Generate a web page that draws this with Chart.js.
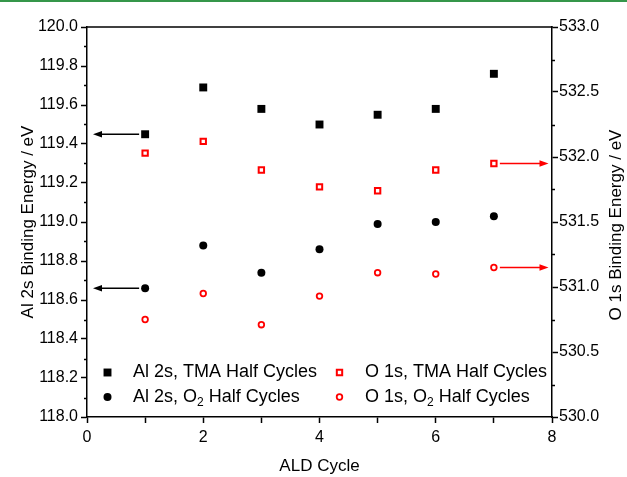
<!DOCTYPE html>
<html>
<head>
<meta charset="utf-8">
<script src="https://cdn.jsdelivr.net/npm/chart.js@4.4.1/dist/chart.umd.min.js"></script>
<style>
  html, body { margin: 0; padding: 0; background: #fff; }
  #wrap { position: relative; width: 627px; height: 477px; }
  #topbar { position: absolute; left: 0; top: 0; width: 627px; height: 2px; background: #35964a; }
</style>
</head>
<body>
<div id="wrap">
  <canvas id="xps-chart" width="627" height="477"></canvas>
  <div id="topbar"></div>
</div>
<script>
// ALD cycle number and binding energies (eV)
const cycles = [1, 2, 3, 4, 5, 6, 7];
const al2sTma = [119.45, 119.69, 119.58, 119.50, 119.55, 119.58, 119.76];
const al2sO2 = [118.66, 118.88, 118.74, 118.86, 118.99, 119.00, 119.03];
const o1sTma = [532.03, 532.12, 531.90, 531.77, 531.74, 531.90, 531.95];
const o1sO2 = [530.75, 530.95, 530.71, 530.93, 531.11, 531.10, 531.15];

const FONT = '"Liberation Sans", Arial, sans-serif';

function toPoints(values) {
  return cycles.map(function (c, i) { return { x: c, y: values[i] }; });
}

function line(ctx, x1, y1, x2, y2) {
  ctx.beginPath();
  ctx.moveTo(x1, y1);
  ctx.lineTo(x2, y2);
  ctx.stroke();
}

function arrow(ctx, x1, y, x2, color) {
  var dir = Math.sign(x2 - x1);
  ctx.strokeStyle = color;
  ctx.fillStyle = color;
  ctx.lineWidth = 1.5;
  line(ctx, x1, y, x2 - dir * 6, y);
  ctx.beginPath();
  ctx.moveTo(x2, y);
  ctx.lineTo(x2 - dir * 9, y - 3.2);
  ctx.lineTo(x2 - dir * 9, y + 3.2);
  ctx.closePath();
  ctx.fill();
}

function marker(ctx, ds, x, y) {
  ctx.save();
  ctx.fillStyle = ds.backgroundColor;
  ctx.strokeStyle = ds.borderColor;
  ctx.lineWidth = ds.borderWidth;
  if (ds.pointStyle === 'rect') {
    var s = ds.pointRadius * Math.SQRT1_2;
    ctx.beginPath();
    ctx.rect(x - s, y - s, 2 * s, 2 * s);
  } else {
    ctx.beginPath();
    ctx.arc(x, y, ds.pointRadius, 0, Math.PI * 2);
  }
  ctx.fill();
  if (ds.borderWidth) ctx.stroke();
  ctx.restore();
}

// label text with the "2" in O2 lowered as a subscript
function labelText(ctx, text, x, y) {
  var parts = text.split('O2');
  ctx.textAlign = 'left';
  ctx.textBaseline = 'middle';
  for (var i = 0; i < parts.length; i++) {
    ctx.font = '18px ' + FONT;
    var p = parts[i] + (i < parts.length - 1 ? 'O' : '');
    ctx.fillText(p, x, y);
    x += ctx.measureText(p).width;
    if (i < parts.length - 1) {
      ctx.font = '12px ' + FONT;
      ctx.fillText('2', x, y + 6);
      x += ctx.measureText('2').width;
    }
  }
}

const extras = {
  id: 'extras',
  afterDraw(chart) {
    var ctx = chart.ctx;
    var area = chart.chartArea;
    var xs = chart.scales.x, yl = chart.scales.y, yr = chart.scales.y2;
    ctx.save();

    // top edge of the frame
    ctx.strokeStyle = '#000';
    ctx.lineWidth = 1.5;
    line(ctx, area.left, area.top, area.right + 0.75, area.top);

    // minor ticks
    for (var v = 118.1; v < 120; v += 0.2) {
      var py = Math.round(yl.getPixelForValue(v)) + 0.5;
      line(ctx, area.left - 3, py, area.left, py);
    }
    for (var w = 530.25; w < 533; w += 0.5) {
      var qy = Math.round(yr.getPixelForValue(w)) + 0.5;
      line(ctx, area.right, qy, area.right + 3, qy);
    }

    // arrows pointing each series to its axis
    arrow(ctx, xs.getPixelForValue(cycles[0]) - 6, yl.getPixelForValue(al2sTma[0]), area.left + 6, '#000');
    arrow(ctx, xs.getPixelForValue(cycles[0]) - 6, yl.getPixelForValue(al2sO2[0]), area.left + 6, '#000');
    var last = cycles.length - 1;
    arrow(ctx, xs.getPixelForValue(cycles[last]) + 6, yr.getPixelForValue(o1sTma[last]), area.right - 3.5, '#ff0000');
    arrow(ctx, xs.getPixelForValue(cycles[last]) + 6, yr.getPixelForValue(o1sO2[last]), area.right - 3.5, '#ff0000');

    // two-column legend in the lower part of the plot
    ctx.fillStyle = '#000';
    chart.data.datasets.forEach(function (ds, i) {
      var col = i >> 1, row = i & 1;
      var mx = 107.5 + col * 232;
      var my = 372.5 + row * 24.5;
      marker(ctx, ds, mx, my);
      ctx.fillStyle = '#000';
      labelText(ctx, ds.label, mx + 25.5, my);
    });

    // right axis title, reading bottom to top
    ctx.fillStyle = '#000';
    ctx.font = '17px ' + FONT;
    ctx.translate(616, (area.top + area.bottom) / 2 + 3);
    ctx.rotate(-Math.PI / 2);
    ctx.textAlign = 'center';
    ctx.textBaseline = 'middle';
    ctx.fillText('O 1s Binding Energy / eV', 0, 0);

    ctx.restore();
  }
};

var ctx = document.getElementById('xps-chart');
var xpsChart = new Chart(ctx, {
  type: 'scatter',
  data: {
    datasets: [
      {
        label: 'Al 2s, TMA Half Cycles',
        data: toPoints(al2sTma),
        yAxisID: 'y',
        pointStyle: 'rect',
        pointRadius: 5.6,
        backgroundColor: '#000',
        borderColor: '#000',
        borderWidth: 0
      },
      {
        label: 'Al 2s, O2 Half Cycles',
        data: toPoints(al2sO2),
        yAxisID: 'y',
        pointStyle: 'circle',
        pointRadius: 4,
        backgroundColor: '#000',
        borderColor: '#000',
        borderWidth: 0
      },
      {
        label: 'O 1s, TMA Half Cycles',
        data: toPoints(o1sTma),
        yAxisID: 'y2',
        pointStyle: 'rect',
        pointRadius: 3.8,
        backgroundColor: '#fff',
        borderColor: '#ff0000',
        borderWidth: 2
      },
      {
        label: 'O 1s, O2 Half Cycles',
        data: toPoints(o1sO2),
        yAxisID: 'y2',
        pointStyle: 'circle',
        pointRadius: 2.8,
        backgroundColor: '#fff',
        borderColor: '#ff0000',
        borderWidth: 1.8
      }
    ]
  },
  options: {
    responsive: false,
    animation: false,
    layout: { padding: { top: 27, left: 0, right: 0, bottom: 0 } },
    plugins: {
      legend: { display: false },
      tooltip: { enabled: false }
    },
    scales: {
      x: {
        type: 'linear',
        position: 'bottom',
        min: 0,
        max: 8,
        border: { color: '#000', width: 1.5 },
        grid: { drawOnChartArea: false, tickLength: 6, color: '#000', tickWidth: 1.5 },
        ticks: {
          stepSize: 1,
          autoSkip: false,
          maxRotation: 0,
          padding: 5,
          color: '#000',
          font: { family: FONT, size: 16 },
          callback: function (v) { return v % 2 === 0 ? String(v) : ''; }
        },
        title: {
          display: true,
          text: 'ALD Cycle',
          color: '#000',
          font: { family: FONT, size: 17 },
          padding: { top: 0, bottom: 0 }
        },
        afterFit: function (s) { s.height = 60; }
      },
      y: {
        type: 'linear',
        position: 'left',
        min: 118,
        max: 120,
        border: { color: '#000', width: 1.5 },
        grid: { drawOnChartArea: false, tickLength: 6, color: '#000', tickWidth: 1.5 },
        ticks: {
          stepSize: 0.2,
          padding: 3,
          color: '#000',
          font: { family: FONT, size: 16 },
          callback: function (v) { return Number(v).toFixed(1); }
        },
        title: {
          display: true,
          text: 'Al 2s Binding Energy / eV',
          color: '#000',
          font: { family: FONT, size: 17 },
          padding: { top: 18, bottom: 0 }
        },
        afterFit: function (s) { s.width = 87; }
      },
      y2: {
        type: 'linear',
        position: 'right',
        min: 530,
        max: 533,
        border: { color: '#000', width: 1.5 },
        grid: { drawOnChartArea: false, tickLength: 6, color: '#000', tickWidth: 1.5 },
        ticks: {
          stepSize: 0.5,
          padding: 1,
          color: '#000',
          font: { family: FONT, size: 16 },
          callback: function (v) { return Number(v).toFixed(1); }
        },
        afterFit: function (s) { s.width = 75; }
      }
    }
  },
  plugins: [extras]
});
</script>
</body>
</html>
